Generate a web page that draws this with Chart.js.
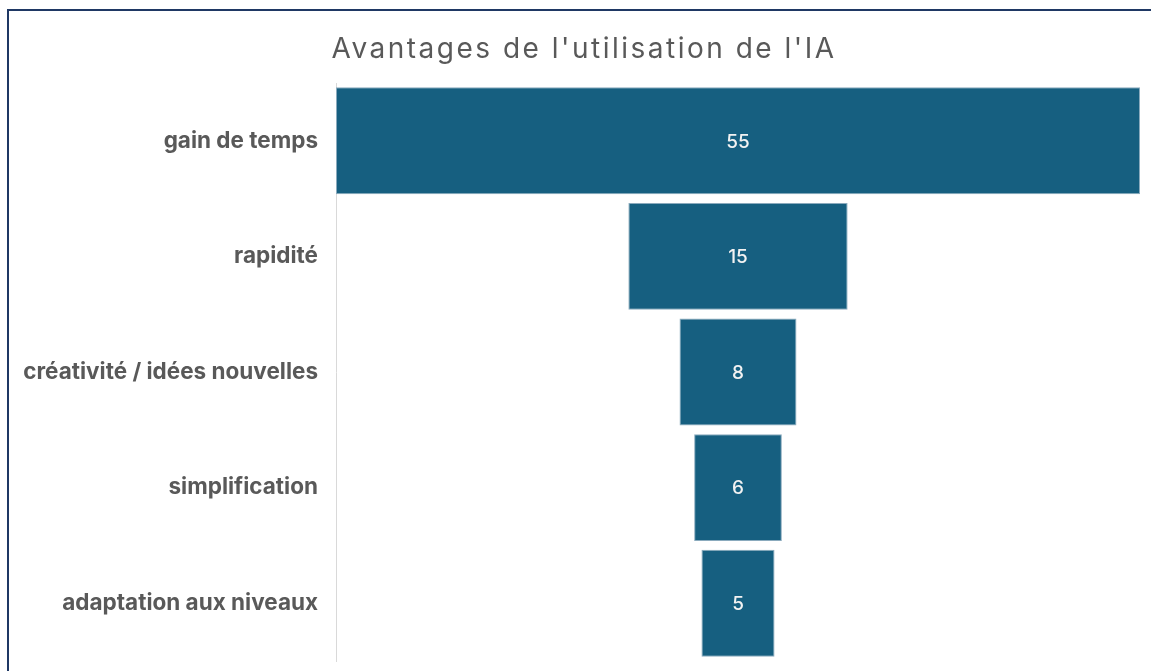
<!DOCTYPE html>
<html>
<head>
<meta charset="utf-8">
<script src="https://cdn.jsdelivr.net/npm/chart.js@4.4.1/dist/chart.umd.min.js"></script>
<style>
  html, body { margin: 0; padding: 0; background: #fff; overflow: hidden; }
  #wrap { position: relative; width: 1151px; height: 671px; overflow: hidden; }
  #funnel { display: block; }
  .edge { position: absolute; background: #1f3864; pointer-events: none; }
  #edgeTop { left: 7px; top: 9px; width: 1300px; height: 2px; }
  #edgeLeft { left: 7px; top: 9px; width: 2px; height: 800px; }
</style>
</head>
<body>
<div id="wrap">
  <canvas id="funnel" width="1151" height="671"></canvas>
  <div class="edge" id="edgeTop"></div>
  <div class="edge" id="edgeLeft"></div>
</div>
<script>
// Funnel data
const chartTitle = "Avantages de l'utilisation de l'IA";
const categories = [
  "gain de temps",
  "rapidité",
  "créativité / idées nouvelles",
  "simplification",
  "adaptation aux niveaux",
];
const counts = [55, 15, 8, 6, 5];

const maxCount = Math.max(...counts);

// centred floating bars give the funnel shape
const floating = counts.map((v) => [-v / 2, v / 2]);

// title drawn by hand so it can sit a little off centre like the original
const titlePlugin = {
  id: "titlePlugin",
  afterDraw(chart) {
    const ctx = chart.ctx;
    ctx.save();
    ctx.fillStyle = "#595959";
    ctx.font = "28px Inter, 'Noto Sans', sans-serif";
    ctx.letterSpacing = "2.5px";
    ctx.textAlign = "center";
    ctx.textBaseline = "alphabetic";
    ctx.fillText(chartTitle, 584, 58);
    ctx.restore();
  },
};

// draw the value in the middle of each bar
const valueLabels = {
  id: "valueLabels",
  afterDatasetsDraw(chart) {
    const ctx = chart.ctx;
    const meta = chart.getDatasetMeta(0);
    ctx.save();
    ctx.fillStyle = "#f2f2f2";
    ctx.font = "500 19px Inter, 'Noto Sans', sans-serif";
    ctx.textAlign = "center";
    ctx.textBaseline = "middle";
    meta.data.forEach((bar, i) => {
      ctx.fillText(String(counts[i]), bar.x - bar.width / 2, bar.y + 1);
    });
    ctx.restore();
  },
};

const chart = new Chart(document.getElementById("funnel"), {
  type: "bar",
  data: {
    labels: categories,
    datasets: [
      {
        data: floating,
        backgroundColor: "#165f80",
        borderColor: "#8aaabd",
        borderWidth: 1,
        borderSkipped: false,
        barPercentage: 0.925,
        categoryPercentage: 1,
      },
    ],
  },
  options: {
    indexAxis: "y",
    responsive: false,
    animation: false,
    layout: {
      padding: { left: 0, right: 11, top: 83, bottom: 10 },
    },
    plugins: {
      legend: { display: false },
      tooltip: { enabled: false },
      title: { display: false },
    },
    scales: {
      x: {
        display: false,
        min: -maxCount / 2,
        max: maxCount / 2,
      },
      y: {
        grid: { display: false, drawTicks: false },
        border: { display: true, color: "#d9d9d9", width: 1 },
        ticks: {
          color: "#595959",
          padding: 18,
          font: { family: "Inter, 'Noto Sans', sans-serif", size: 22.5, weight: "bold" },
        },
        afterFit(scale) {
          scale.width = 336;
          scale.paddingTop = 0;
          scale.paddingBottom = 0;
        },
      },
    },
  },
  plugins: [valueLabels, titlePlugin],
});
</script>
</body>
</html>
